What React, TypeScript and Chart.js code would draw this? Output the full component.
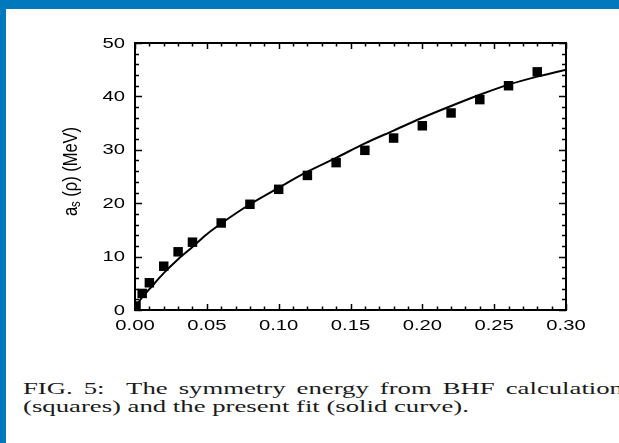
import React, { useEffect, useRef } from "react";
import { Chart, registerables } from "chart.js";

Chart.register(...registerables);

// BHF calculation (squares)
const densityBHF = [0.0007, 0.005, 0.01, 0.02, 0.03, 0.04, 0.06, 0.08, 0.1, 0.12, 0.14, 0.16, 0.18, 0.2, 0.22, 0.24, 0.26, 0.28];
const symEnergyBHF = [0.75, 3.1, 5.1, 8.2, 10.9, 12.7, 16.3, 19.8, 22.6, 25.2, 27.6, 29.9, 32.2, 34.5, 36.9, 39.4, 42.0, 44.6];

// present fit (solid curve)
const densityFit = [0, 0.0025, 0.005, 0.01, 0.02, 0.03, 0.04, 0.05, 0.06, 0.08, 0.1, 0.12, 0.14, 0.16, 0.18, 0.2, 0.22, 0.24, 0.26, 0.28, 0.3];
const symEnergyFit = [0, 1.4, 2.4, 3.9, 6.9, 9.5, 11.8, 14.2, 16.2, 19.8, 22.9, 25.9, 28.5, 31.2, 33.6, 36.0, 38.2, 40.3, 42.2, 43.7, 45.0];

// axes
const xTickLabels = ["0.00", "0.05", "0.10", "0.15", "0.20", "0.25", "0.30"];
const yTickLabels = ["0", "10", "20", "30", "40", "50"];
const X_MIN = 0, X_MAX = 0.3, X_MINOR = 0.01;
const Y_MIN = 0, Y_MAX = 50, Y_MINOR = 2;

const captionLine1 = "FIG. 5:  The symmetry energy from BHF calculation";
const captionLine2 = "(squares) and the present fit (solid curve).";

const BLUE = "#0078be";
const TICK_FONT = "15px 'Liberation Sans', Arial, sans-serif";
const STRETCH = 1.35;

const framePlugin = {
  id: "frameTicks",
  afterDatasetsDraw(chart: any) {
    const { ctx, chartArea: a, scales } = chart;
    const xs = scales.x;
    const ys = scales.y;
    ctx.save();
    ctx.strokeStyle = "#000";
    ctx.lineWidth = 1.5;
    const nx = Math.round((X_MAX - X_MIN) / X_MINOR);
    for (let i = 0; i <= nx; i++) {
      const v = X_MIN + i * X_MINOR;
      const px = Math.round(xs.getPixelForValue(v)) + 0.5;
      const len = i % 5 === 0 ? 6 : 3.5;
      ctx.beginPath();
      ctx.moveTo(px, a.bottom);
      ctx.lineTo(px, a.bottom - len);
      ctx.moveTo(px, a.top);
      ctx.lineTo(px, a.top + len);
      ctx.stroke();
    }
    const ny = Math.round((Y_MAX - Y_MIN) / Y_MINOR);
    for (let i = 0; i <= ny; i++) {
      const v = Y_MIN + i * Y_MINOR;
      const py = Math.round(ys.getPixelForValue(v)) + 0.5;
      const len = i % 5 === 0 ? 7 : 4;
      ctx.beginPath();
      ctx.moveTo(a.left, py);
      ctx.lineTo(a.left + len, py);
      ctx.moveTo(a.right, py);
      ctx.lineTo(a.right - len, py);
      ctx.stroke();
    }
    ctx.lineWidth = 2;
    ctx.strokeRect(a.left, a.top, a.right - a.left, a.bottom - a.top);
    ctx.restore();
  },
  afterDraw(chart: any) {
    const { ctx, chartArea: a, scales } = chart;
    const xs = scales.x;
    const ys = scales.y;
    ctx.save();
    ctx.fillStyle = "#000";
    ctx.font = TICK_FONT;
    ctx.textBaseline = "alphabetic";
    ctx.textAlign = "center";
    for (const lab of xTickLabels) {
      const px = xs.getPixelForValue(Number(lab));
      ctx.save();
      ctx.translate(px, a.bottom + 20);
      ctx.scale(STRETCH, 1);
      ctx.fillText(lab, 0, 0);
      ctx.restore();
    }
    ctx.textAlign = "right";
    for (const lab of yTickLabels) {
      const py = ys.getPixelForValue(Number(lab));
      ctx.save();
      ctx.translate(a.left - 10, py + 4.5);
      ctx.scale(STRETCH, 1);
      ctx.fillText(lab, 0, 0);
      ctx.restore();
    }
    // y axis title with subscript: a_s (ρ) (MeV)
    const mainFont = "16px 'Liberation Sans', Arial, sans-serif";
    const subFont = "11px 'Liberation Sans', Arial, sans-serif";
    ctx.font = mainFont;
    const wA = ctx.measureText("a").width;
    const rest = " (\u03c1) (MeV)";
    const wRest = ctx.measureText(rest).width;
    ctx.font = subFont;
    const wS = ctx.measureText("s").width;
    const total = wA + wS + wRest;
    const cy = (a.top + a.bottom) / 2 - 5;
    ctx.save();
    ctx.translate(76.5, cy);
    ctx.rotate(-Math.PI / 2);
    ctx.scale(1.03, 1.25);
    ctx.textAlign = "left";
    let x0 = -total / 2;
    ctx.font = mainFont;
    ctx.fillText("a", x0, 0);
    x0 += wA;
    ctx.font = subFont;
    ctx.fillText("s", x0, 3);
    x0 += wS;
    ctx.font = mainFont;
    ctx.fillText(rest, x0, 0);
    ctx.restore();
    ctx.restore();
  },
};

export default function App() {
  const ref = useRef<HTMLCanvasElement>(null);
  useEffect(() => {
    const canvas = ref.current;
    if (!canvas) return;
    const fitData = densityFit.map((x, i) => ({ x, y: symEnergyFit[i] }));
    const bhfData = densityBHF.map((x, i) => ({ x, y: symEnergyBHF[i] }));
    const chart = new Chart(canvas, {
      type: "scatter",
      data: {
        datasets: [
          {
            label: "fit",
            data: fitData,
            showLine: true,
            borderColor: "#000",
            borderWidth: 2,
            pointRadius: 0,
            fill: false,
            cubicInterpolationMode: "monotone",
            clip: 0,
          } as any,
          {
            label: "BHF",
            data: bhfData,
            pointStyle: "rect",
            pointRadius: 6.7,
            backgroundColor: "#000",
            borderWidth: 0,
            clip: 0,
          } as any,
        ],
      },
      options: {
        responsive: false,
        animation: false,
        devicePixelRatio: 1,
        events: [],
        layout: { padding: { left: 135, right: 53, top: 43, bottom: 40 } },
        plugins: { legend: { display: false }, tooltip: { enabled: false } },
        scales: {
          x: { type: "linear", min: X_MIN, max: X_MAX, display: false },
          y: { type: "linear", min: Y_MIN, max: Y_MAX, display: false },
        },
      },
      plugins: [framePlugin],
    });
    return () => chart.destroy();
  }, []);

  return (
    <div style={{ position: "fixed", left: 0, top: 0, width: 619, height: 443, background: BLUE, overflow: "hidden" }}>
      <div style={{ position: "absolute", left: 6, top: 9, right: 0, bottom: 0, background: "#fff" }} />
      <canvas
        ref={ref}
        width={619}
        height={350}
        style={{ position: "absolute", left: 0, top: 0, width: 619, height: 350 }}
      />
      <div
        style={{
          position: "absolute",
          left: 23,
          top: 380,
          fontFamily: "'Liberation Serif', 'Times New Roman', serif",
          fontSize: 16,
          lineHeight: "18px",
          color: "#1a1a1a",
          whiteSpace: "pre",
          transform: "scaleX(1.67)",
          transformOrigin: "left top",
        }}
      >
        <div style={{ wordSpacing: 2.6 }}>{captionLine1}</div>
        <div>{captionLine2}</div>
      </div>
    </div>
  );
}
